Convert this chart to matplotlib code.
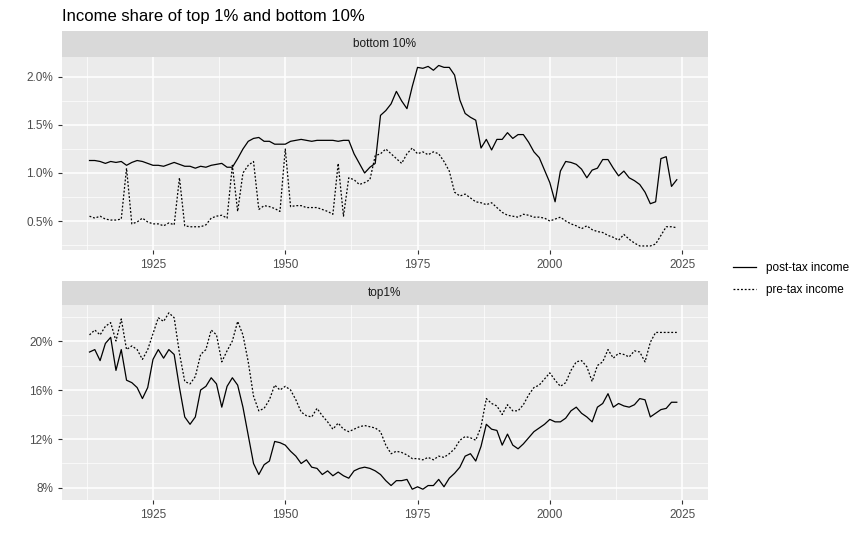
import numpy as np
import matplotlib.pyplot as plt
from matplotlib.ticker import FuncFormatter, MultipleLocator
from matplotlib.lines import Line2D

plt.rcParams['font.family'] = ['Liberation Sans', 'DejaVu Sans']

years = np.arange(1913, 2025)

bottom10_post = [
    1.13, 1.13, 1.12, 1.10, 1.12, 1.11, 1.12, 1.08, 1.11, 1.13,
    1.12, 1.10, 1.08, 1.08, 1.07, 1.09, 1.11, 1.09, 1.07, 1.07,
    1.05, 1.07, 1.06, 1.08, 1.09, 1.10, 1.06, 1.06, 1.15, 1.25,
    1.33, 1.36, 1.37, 1.33, 1.33, 1.30, 1.30, 1.30, 1.33, 1.34,
    1.35, 1.34, 1.33, 1.34, 1.34, 1.34, 1.34, 1.33, 1.34, 1.34,
    1.20, 1.10, 1.00, 1.06, 1.10, 1.60, 1.65, 1.72, 1.85, 1.75,
    1.67, 1.90, 2.10, 2.09, 2.11, 2.07, 2.12, 2.10, 2.10, 2.02,
    1.76, 1.62, 1.58, 1.55, 1.26, 1.35, 1.24, 1.35, 1.35, 1.42,
    1.36, 1.40, 1.40, 1.32, 1.22, 1.16, 1.03, 0.90, 0.70, 1.02,
    1.12, 1.11, 1.09, 1.04, 0.95, 1.03, 1.05, 1.14, 1.14, 1.05,
    0.97, 1.02, 0.95, 0.92, 0.88, 0.80, 0.68, 0.70, 1.15, 1.17,
    0.86, 0.93,
]
bottom10_pre = [
    0.55, 0.53, 0.55, 0.52, 0.51, 0.51, 0.52, 1.05, 0.47, 0.49,
    0.53, 0.49, 0.47, 0.47, 0.45, 0.48, 0.46, 0.95, 0.45, 0.44,
    0.44, 0.44, 0.46, 0.53, 0.55, 0.56, 0.53, 1.08, 0.60, 1.00,
    1.08, 1.12, 0.62, 0.66, 0.65, 0.63, 0.60, 1.25, 0.65, 0.66,
    0.66, 0.64, 0.64, 0.64, 0.62, 0.60, 0.57, 1.10, 0.55, 0.95,
    0.93, 0.88, 0.90, 0.93, 1.18, 1.20, 1.25, 1.20, 1.15, 1.10,
    1.20, 1.26, 1.20, 1.22, 1.19, 1.22, 1.20, 1.12, 1.02, 0.80,
    0.76, 0.78, 0.74, 0.70, 0.69, 0.67, 0.69, 0.64, 0.59, 0.56,
    0.55, 0.54, 0.57, 0.56, 0.54, 0.54, 0.53, 0.50, 0.52, 0.54,
    0.50, 0.47, 0.45, 0.42, 0.45, 0.41, 0.39, 0.38, 0.35, 0.33,
    0.30, 0.36, 0.31, 0.27, 0.24, 0.24, 0.24, 0.26, 0.35, 0.44,
    0.44, 0.43,
]
top1_post = [
    19.1, 19.3, 18.4, 19.8, 20.3, 17.6, 19.3, 16.8, 16.6, 16.2,
    15.3, 16.2, 18.5, 19.3, 18.6, 19.3, 18.9, 16.2, 13.8, 13.2,
    13.8, 16.0, 16.3, 17.0, 16.5, 14.6, 16.3, 17.0, 16.4, 14.6,
    12.3, 10.0, 9.1, 9.9, 10.2, 11.8, 11.7, 11.5, 11.0, 10.6,
    10.0, 10.3, 9.7, 9.6, 9.1, 9.4, 9.0, 9.3, 9.0, 8.8,
    9.4, 9.6, 9.7, 9.6, 9.4, 9.1, 8.6, 8.2, 8.6, 8.6,
    8.7, 7.9, 8.1, 7.9, 8.2, 8.2, 8.7, 8.1, 8.8, 9.2,
    9.7, 10.6, 10.8, 10.2, 11.4, 13.2, 12.8, 12.7, 11.5, 12.4,
    11.5, 11.2, 11.6, 12.1, 12.6, 12.9, 13.2, 13.6, 13.4, 13.4,
    13.7, 14.3, 14.6, 14.1, 13.8, 13.4, 14.6, 14.9, 15.7, 14.6,
    14.9, 14.7, 14.6, 14.8, 15.3, 15.2, 13.8, 14.1, 14.4, 14.5,
    15.0, 15.0,
]
top1_pre = [
    20.5, 20.9, 20.5, 21.2, 21.5, 20.0, 21.8, 19.3, 19.6, 19.3,
    18.5, 19.3, 20.6, 21.9, 21.6, 22.3, 21.9, 19.0, 16.7, 16.5,
    17.1, 18.9, 19.3, 20.9, 20.5, 18.3, 19.2, 20.0, 21.6, 20.5,
    18.3, 15.5, 14.3, 14.5, 15.2, 16.4, 16.0, 16.3, 16.0, 15.2,
    14.2, 13.9, 13.8, 14.5, 13.9, 13.4, 12.8, 13.3, 12.8, 12.6,
    12.8, 13.0, 13.1, 13.0, 12.9, 12.6, 11.5, 10.8, 11.0, 10.9,
    10.7, 10.4, 10.4, 10.3, 10.5, 10.3, 10.6, 10.5, 10.8, 11.2,
    11.9, 12.2, 12.1, 11.9, 13.0, 15.3, 14.9, 14.7, 14.0, 14.8,
    14.3, 14.3, 14.8, 15.6, 16.2, 16.4, 16.9, 17.4, 16.8, 16.3,
    16.6, 17.6, 18.3, 18.4, 17.9, 16.7, 18.0, 18.3, 19.3, 18.6,
    19.0, 18.9, 18.7, 19.2, 19.1, 18.3, 19.9, 20.7, 20.7, 20.7,
    20.7, 20.7,
]

W, H = 862, 546
BG = '#ebebeb'
STRIP = '#d9d9d9'


def box(x0, y0, x1, y1):
    return [x0 / W, 1 - y1 / H, (x1 - x0) / W, (y1 - y0) / H]


def style_panel(ax, major, minor, fmt, ylim):
    ax.set_facecolor(BG)
    for s in ax.spines.values():
        s.set_visible(False)
    ax.set_xlim(1907.8, 2029.9)
    ax.set_ylim(*ylim)
    ax.xaxis.set_major_locator(MultipleLocator(25))
    ax.xaxis.set_minor_locator(MultipleLocator(12.5))
    ax.yaxis.set_major_locator(MultipleLocator(major))
    ax.yaxis.set_minor_locator(MultipleLocator(minor))
    ax.yaxis.set_major_formatter(FuncFormatter(fmt))
    ax.grid(which='major', color='white', lw=1.1)
    ax.grid(which='minor', color='white', lw=0.5)
    ax.set_axisbelow(True)
    ax.tick_params(which='both', length=3, color='#333333', labelcolor='#4d4d4d', labelsize=8.5)
    ax.tick_params(which='minor', length=0)


def add_strip(fig, rect, label):
    s = fig.add_axes(rect)
    s.set_facecolor(STRIP)
    s.set_xticks([])
    s.set_yticks([])
    for sp in s.spines.values():
        sp.set_visible(False)
    s.text(0.5, 0.5, label, ha='center', va='center', fontsize=8.5, color='#1a1a1a')


fig = plt.figure(figsize=(W / 100, H / 100), dpi=100)
fig.patch.set_facecolor('white')

ax1 = fig.add_axes(box(62, 57, 708, 250))
ax1.plot(years, bottom10_post, color='black', lw=0.9)
ax1.plot(years, bottom10_pre, color='black', lw=0.9, ls=(0, (1.5, 1.5)))
style_panel(ax1, 0.5, 0.25, lambda v, p: '%.1f%%' % v, (0.198, 2.208))
add_strip(fig, box(62, 31, 708, 57), 'bottom 10%')

ax2 = fig.add_axes(box(62, 305, 708, 500))
ax2.plot(years, top1_post, color='black', lw=0.9)
ax2.plot(years, top1_pre, color='black', lw=0.9, ls=(0, (1.5, 1.5)))
style_panel(ax2, 4, 2, lambda v, p: '%d%%' % v, (7.02, 22.94))
add_strip(fig, box(62, 281, 708, 305), 'top1%')

fig.text(62 / W, 1 - 17 / H, 'Income share of top 1% and bottom 10%', fontsize=12,
         va='center', ha='left', color='black')

handles = [Line2D([], [], color='black', lw=0.9),
           Line2D([], [], color='black', lw=0.9, ls=(0, (1.5, 1.5)))]
fig.legend(handles, ['post-tax income', 'pre-tax income'], loc='center left',
           bbox_to_anchor=(722 / W, 1 - 279 / H), frameon=False, fontsize=8.5,
           handlelength=2, labelspacing=0.9)

fig.savefig('out.png', dpi=100)
